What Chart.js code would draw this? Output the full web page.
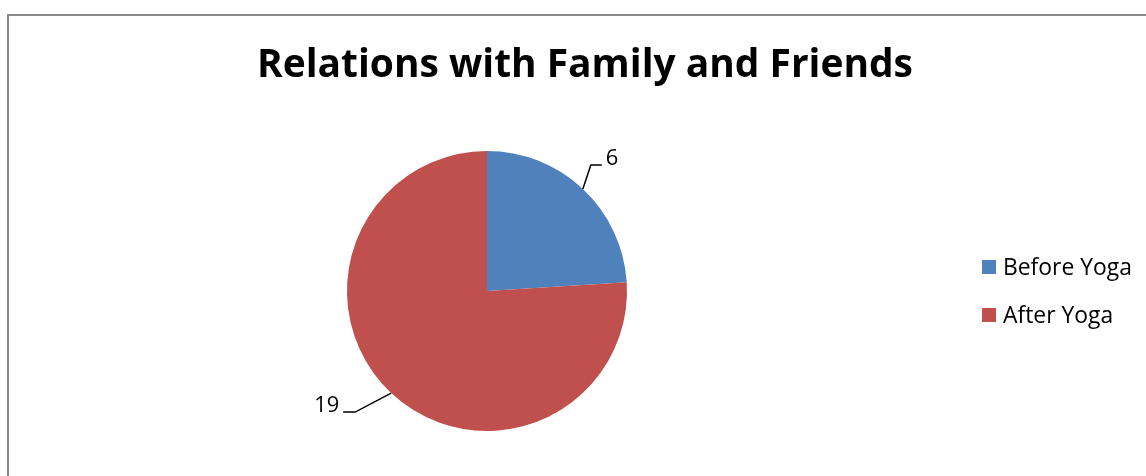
<!DOCTYPE html>
<html>
<head>
<meta charset="utf-8">
<script src="https://cdn.jsdelivr.net/npm/chart.js@4/dist/chart.umd.min.js"></script>
<style>
  html, body { margin: 0; padding: 0; background: #ffffff; }
  #wrap { width: 1146px; height: 476px; position: relative; }
</style>
</head>
<body>
<div id="wrap"><canvas id="chart" width="1146" height="476"></canvas></div>
<script>
// Survey counts: relations with family and friends
const categories = ['Before Yoga', 'After Yoga'];
const counts = [6, 19];
const sliceColors = ['#4F81BD', '#C0504D'];
const chartTitle = 'Relations with Family and Friends';

const FONT = '"Open Sans", Lato, "Liberation Sans", sans-serif';

// Pick a font size so the text spans the requested width
function fitFont(ctx, text, weight, targetWidth) {
  ctx.font = weight + ' 100px ' + FONT;
  const w = ctx.measureText(text).width;
  const size = 100 * targetWidth / w;
  return weight + ' ' + size.toFixed(2) + 'px ' + FONT;
}

// Outer frame around the chart object
const framePlugin = {
  id: 'frame',
  beforeDraw(chart) {
    const ctx = chart.ctx;
    ctx.save();
    ctx.fillStyle = '#ffffff';
    ctx.fillRect(0, 0, chart.width, chart.height);
    ctx.strokeStyle = '#898989';
    ctx.lineWidth = 2;
    ctx.strokeRect(8, 15, chart.width + 20, chart.height + 20);
    ctx.restore();
  }
};

// Centered bold heading
const headingPlugin = {
  id: 'heading',
  afterDraw(chart) {
    const ctx = chart.ctx;
    ctx.save();
    ctx.fillStyle = '#000000';
    ctx.font = fitFont(ctx, chartTitle, 'bold', 656);
    ctx.textAlign = 'center';
    ctx.textBaseline = 'alphabetic';
    ctx.fillText(chartTitle, 585, 77);
    ctx.restore();
  }
};

// Value labels placed outside each slice with a bent leader line
const leaderLabelPlugin = {
  id: 'leaderLabels',
  afterDatasetsDraw(chart) {
    const ctx = chart.ctx;
    const meta = chart.getDatasetMeta(0);
    ctx.save();
    ctx.font = fitFont(ctx, '19', 'normal', 25);
    ctx.strokeStyle = '#000000';
    ctx.fillStyle = '#000000';
    ctx.lineWidth = 1.5;
    meta.data.forEach((arc, i) => {
      const p = arc.getProps(['x', 'y', 'startAngle', 'endAngle', 'outerRadius'], true);
      const mid = (p.startAngle + p.endAngle) / 2;
      const ax = p.x + Math.cos(mid) * p.outerRadius;
      const ay = p.y + Math.sin(mid) * p.outerRadius;
      const right = Math.cos(mid) >= 0;
      const text = String(counts[i]);
      let ex, ey, hx;
      if (right) {
        ex = ax + 8; ey = ay - 24; hx = ex + 11;
      } else {
        ex = ax - 36; ey = ay + 19; hx = ex - 12;
      }
      ctx.beginPath();
      ctx.moveTo(ax, ay);
      ctx.lineTo(ex, ey);
      ctx.lineTo(hx, ey);
      ctx.stroke();
      ctx.textBaseline = 'alphabetic';
      if (right) {
        ctx.textAlign = 'left';
        ctx.fillText(text, hx + 4, ey);
      } else {
        ctx.textAlign = 'right';
        ctx.fillText(text, hx - 4, ey);
      }
    });
    ctx.restore();
  }
};

// Legend on the right with square swatches
const sideLegendPlugin = {
  id: 'sideLegend',
  afterDraw(chart) {
    const ctx = chart.ctx;
    const ds = chart.data.datasets[0];
    ctx.save();
    ctx.font = fitFont(ctx, 'Before Yoga', 'normal', 129);
    ctx.textAlign = 'left';
    ctx.textBaseline = 'alphabetic';
    chart.data.labels.forEach((lab, i) => {
      const top = 260 + i * 48;
      ctx.fillStyle = ds.backgroundColor[i];
      ctx.fillRect(982, top, 14, 14);
      ctx.fillStyle = '#000000';
      ctx.fillText(lab, 1003, top + 15);
    });
    ctx.restore();
  }
};

new Chart(document.getElementById('chart'), {
  type: 'pie',
  data: {
    labels: categories,
    datasets: [{
      data: counts,
      backgroundColor: sliceColors,
      borderWidth: 0
    }]
  },
  options: {
    responsive: false,
    animation: false,
    layout: { padding: { left: 347, right: 519, top: 151, bottom: 45 } },
    plugins: {
      legend: { display: false },
      title: { display: false },
      tooltip: { enabled: false }
    }
  },
  plugins: [framePlugin, headingPlugin, leaderLabelPlugin, sideLegendPlugin]
});
</script>
</body>
</html>
